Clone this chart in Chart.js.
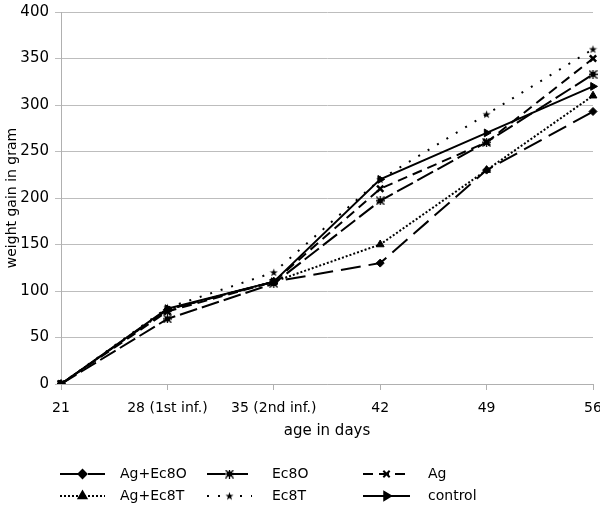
<!DOCTYPE html>
<html><head><meta charset="utf-8">
<script src="https://cdn.jsdelivr.net/npm/chart.js@4/dist/chart.umd.min.js"></script>
<style>html,body{margin:0;padding:0;background:#fff}#wrap{width:600px;height:510px}</style>
</head><body><div id="wrap"><canvas id="c" width="600" height="510"></canvas></div>
<script>
const categories = ['21','28 (1st inf.)','35 (2nd inf.)','42','49','56'];
const agEc8O = [0, 80, 110, 130, 230, 293];
const ec8O   = [0, 70, 108, 197, 260, 333];
const ag     = [0, 78, 110, 210, 260, 350];
const agEc8T = [0, 80, 110, 150, 230, 310];
const ec8T   = [0, 82, 120, 220, 290, 360];
const control= [0, 81, 110, 220, 270, 320];
const seriesNames = ['Ag+Ec8O','Ec8O','Ag','Ag+Ec8T','Ec8T','control'];

function starImg(){
  const c=document.createElement('canvas');c.width=9;c.height=9;const g=c.getContext('2d');
  g.fillStyle='#000';g.beginPath();
  for(let i=0;i<10;i++){const r=i%2?1.7:4.3;const a=-Math.PI/2+i*Math.PI/5;g.lineTo(4.5+r*Math.cos(a),4.8+r*Math.sin(a));}
  g.closePath();g.fill();return c;
}
function burstImg(){
  const c=document.createElement('canvas');c.width=9;c.height=9;const g=c.getContext('2d');
  g.fillStyle='#000';g.fillRect(2,2,5,5);
  g.strokeStyle='#000';g.lineWidth=1.3;g.beginPath();
  g.moveTo(0.5,0.5);g.lineTo(8.5,8.5);g.moveTo(8.5,0.5);g.lineTo(0.5,8.5);g.moveTo(4.5,0);g.lineTo(4.5,9);g.moveTo(0,4.5);g.lineTo(9,4.5);g.stroke();
  return c;
}
const star=starImg(), burst=burstImg();
const base={borderColor:'#000',backgroundColor:'#000',borderWidth:2,pointBorderColor:'#000',pointBackgroundColor:'#000',tension:0,fill:false};
const datasets=[
 Object.assign({},base,{label:seriesNames[0],data:agEc8O,borderDash:[20,8],pointStyle:'rectRot',pointRadius:4,pointBorderWidth:1}),
 Object.assign({},base,{label:seriesNames[1],data:ec8O,borderDash:[18,5],pointStyle:burst,pointRadius:4.5}),
 Object.assign({},base,{label:seriesNames[2],data:ag,borderDash:[10,6],pointStyle:'crossRot',pointRadius:4.5,pointBorderWidth:2.5}),
 Object.assign({},base,{label:seriesNames[3],data:agEc8T,borderDash:[2,2],pointStyle:'triangle',pointRadius:4.5,pointBorderWidth:1}),
 Object.assign({},base,{label:seriesNames[4],data:ec8T,borderDash:[2,9],pointStyle:star,pointRadius:4.5}),
 Object.assign({},base,{label:seriesNames[5],data:control,borderDash:[],pointStyle:'triangle',pointRotation:90,pointRadius:4.5,pointBorderWidth:1})
];
const FONT='"DejaVu Sans", sans-serif';
const legendPlugin={id:'customLegend',afterDraw(chart){
  const ctx=chart.ctx;ctx.save();
  const cols=[[60,105,120],[207,252,272],[363,410,428]];
  const rows=[474,496];
  chart.data.datasets.forEach((ds,i)=>{
    const col=cols[i%3],y=rows[Math.floor(i/3)];
    ctx.strokeStyle='#000';ctx.lineWidth=2;ctx.setLineDash(ds.borderDash||[]);
    ctx.beginPath();ctx.moveTo(col[0],y);ctx.lineTo(col[1],y);ctx.stroke();ctx.setLineDash([]);
    const cx=(col[0]+col[1])/2;
    ctx.fillStyle='#000';
    Chart.helpers.drawPoint(ctx,{pointStyle:ds.pointStyle,rotation:ds.pointRotation||0,radius:ds.pointRadius,borderWidth:ds.pointBorderWidth||1},cx,y);
    ctx.fillStyle='#000';ctx.font='14px '+FONT;ctx.textBaseline='middle';ctx.textAlign='left';
    ctx.fillText(ds.label,col[2],y);
  });
  ctx.restore();
}};
new Chart(document.getElementById('c'),{
  type:'line',
  data:{labels:categories,datasets},
  plugins:[legendPlugin],
  options:{
    responsive:false,animation:false,
    layout:{padding:{top:12,right:6,bottom:66,left:0}},
    plugins:{legend:{display:false},tooltip:{enabled:false}},
    scales:{
      x:{offset:false,
        grid:{display:true,drawOnChartArea:false,drawTicks:true,tickLength:6,color:'#b0b0b0'},
        border:{color:'#b0b0b0',width:1},
        ticks:{color:'#000',font:{family:FONT,size:14},maxRotation:0,autoSkip:false,padding:10},
        title:{display:true,text:'age in days',color:'#000',font:{family:FONT,size:15},padding:{top:2}},
        afterFit(s){s.height=60;s.paddingLeft=0;s.paddingRight=0;}
      },
      y:{min:0,max:400,
        ticks:{stepSize:50,color:'#000',font:{family:FONT,size:15},padding:6},
        grid:{color:'#bdbdbd',lineWidth:1,tickLength:6},
        border:{color:'#b0b0b0',width:1},
        title:{display:true,text:'weight gain in gram',color:'#000',font:{family:FONT,size:14},padding:{bottom:0}},
        afterFit(s){s.width=61;s.paddingTop=0;s.paddingBottom=0;}
      }
    }
  }
});
</script></body></html>
